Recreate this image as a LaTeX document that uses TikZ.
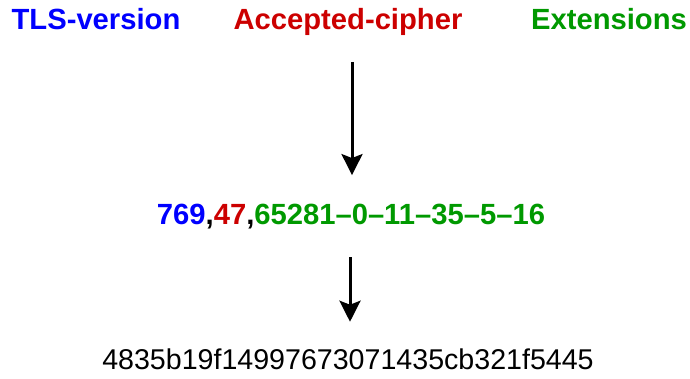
\documentclass[tikz,border=0pt]{standalone}
\usepackage{fontspec}
\setmainfont{Liberation Sans}
\usetikzlibrary{arrows.meta, positioning}

\definecolor{tlsblue}{RGB}{0,0,255}
\definecolor{ciphred}{RGB}{204,0,0}
\definecolor{extgreen}{RGB}{0,153,0}

\begin{document}
\begin{tikzpicture}[x=1pt, y=1pt,
    hdr/.style={font=\fontsize{29.2}{34}\selectfont\bfseries, anchor=base},
    flow/.style={line width=3pt, -{Stealth[length=21pt, width=21pt, inset=4pt]}}]
    \useasboundingbox (0,0) rectangle (690,379);

    % field names
    \node[hdr, text=tlsblue] (tls) at (96,349) {TLS-version};
    \node[hdr, text=ciphred] (cipher) at (348,349) {Accepted-cipher};
    \node[hdr, text=extgreen] (ext) at (609,349) {Extensions};

    % joined string
    \node[hdr] (fp) at (351,154) {\textcolor{tlsblue}{769},\textcolor{ciphred}{47},\textcolor{extgreen}{65281--0--11--35--5--16}};

    % md5 of the string
    \node[font=\fontsize{28.6}{34}\selectfont, anchor=base] (md5) at (348,9) {4835b19f14997673071435cb321f5445};

    % arrows
    \coordinate (in1) at (352,317);
    \draw[flow, shorten >=26pt] (in1) -- (in1 |- fp.north);
    \draw[flow, shorten <=24pt, shorten >=24pt] (fp.south -| 350,0) -- (md5.north -| 350,0);
\end{tikzpicture}
\end{document}
